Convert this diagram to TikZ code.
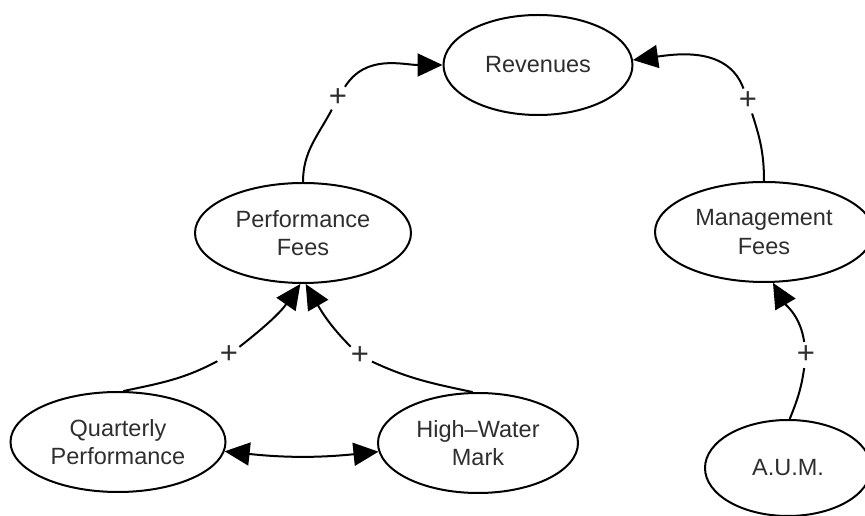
\documentclass[tikz,border=0pt]{standalone}
\usepackage{fontspec}
\setmainfont{Liberation Sans}
\usetikzlibrary{arrows.meta,shapes.geometric}
\tikzset{
  var/.style={ellipse, draw, line width=2pt, align=center, inner sep=0pt,
    font=\fontsize{23.5}{28.5}\selectfont, text=black!82},
  plus/.style={circle, inner sep=0pt, minimum size=26pt, text=black!82,
    font=\fontsize{31}{31}\selectfont},
  link/.style={line width=2pt},
  tipA/.tip={Triangle[length=25pt,width=23pt]},
  arr/.style={link, -tipA},
  arrs/.style={link, tipA-tipA}
}
\begin{document}
\begin{tikzpicture}[x=1pt,y=1pt]
\useasboundingbox (0,0) rectangle (865,516);
\node[var, minimum width=189, minimum height=100] (rev) at (538,451) {Revenues};
\node[var, minimum width=216, minimum height=100] (pf) at (303,283) {Performance\\Fees};
\node[var, minimum width=218, minimum height=100] (mf) at (764,284) {Management\\Fees};
\node[var, minimum width=215, minimum height=100] (qp) at (118,74) {Quarterly\\Performance};
\node[var, minimum width=200, minimum height=100] (hwm) at (478,73) {High–Water\\Mark};
\node[var, minimum width=166, minimum height=96] (aum) at (788,48) {A.U.M.};

\node[plus] (p1) at (338,418) {+};
\node[plus] (p2) at (748,415) {+};
\node[plus] (p3) at (229,161) {+};
\node[plus] (p4) at (360,160) {+};
\node[plus] (p5) at (806,161) {+};

\draw[link] (pf.north) to[out=90,in=-118] (p1);
\draw[arr] (p1) to[out=58,in=180] (rev.west);
\draw[link] (mf.north) to[out=90,in=-72] (p2);
\draw[arr] (p2) to[out=110,in=8] (rev.3);
\draw[link] (qp.84) to[out=12,in=-152] (p3);
\draw[arr] (p3) to[out=38,in=-125] (pf.-93);
\draw[link] (hwm.96) to[out=168,in=-25] (p4);
\draw[arr] (p4) to[out=135,in=-60] (pf.-87);
\draw[arrs] (qp.-5) to[bend right=6] (hwm.-175);
\draw[link] (aum.88) to[out=68,in=-98] (p5);
\draw[arr] (p5) to[out=98,in=-60] (mf.-80);
\end{tikzpicture}
\end{document}
